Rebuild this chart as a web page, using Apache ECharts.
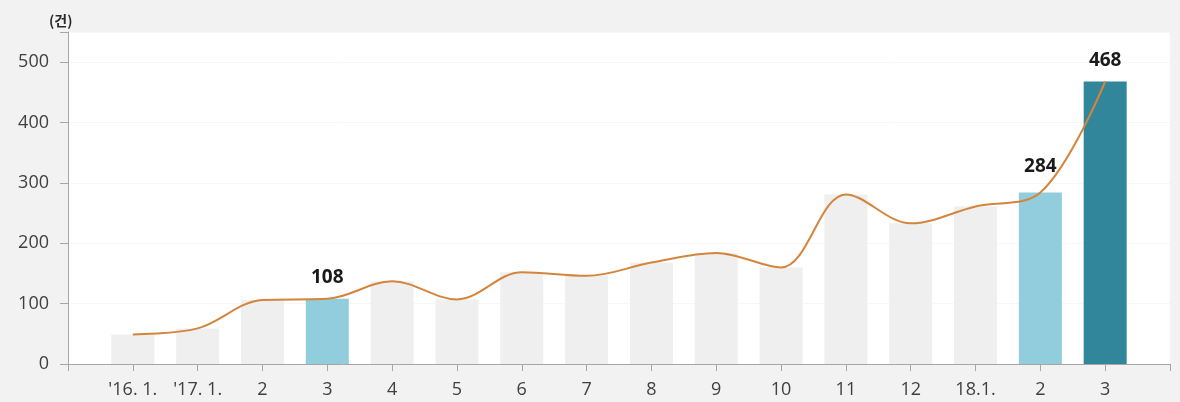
<!DOCTYPE html>
<html>
<head>
<meta charset="utf-8">
<script src="https://cdn.jsdelivr.net/npm/echarts@6/dist/echarts.min.js"></script>
<style>
html,body{margin:0;padding:0;background:#f2f2f2;}
#c{width:1180px;height:402px;}
</style>
</head>
<body>
<div id="c"></div>
<script>
const categories = ['', "'16. 1.", "'17. 1.", '2', '3', '4', '5', '6', '7', '8', '9', '10', '11', '12', '18.1.', '2', '3', ''];
const counts = [null, 49, 59, 106, 108, 137, 107, 152, 146, 168, 184, 160, 281, 233, 261, 284, 468, null];
const highlightLight = [4, 15];
const highlightDark = [16];
const labelled = [4, 15, 16];
const labelDistance = {4: 12, 15: 16, 16: 11};
const yTicks = [0, 100, 200, 300, 400, 500];
const unitLabel = '(건)';
const FONT = '"Open Sans", "Noto Sans", sans-serif';

const barData = counts.map((v, i) => {
  if (v === null) return null;
  let color = '#efefef';
  if (highlightLight.includes(i)) color = '#92cddd';
  if (highlightDark.includes(i)) color = '#31869c';
  const item = { value: v, itemStyle: { color } };
  if (labelled.includes(i)) {
    item.label = { show: true, position: 'top', distance: labelDistance[i],
      fontWeight: 'bold', fontSize: 19, color: '#1a1a1a', fontFamily: FONT };
  }
  return item;
});

const chart = echarts.init(document.getElementById('c'));
chart.setOption({
  backgroundColor: '#f2f2f2',
  animation: false,
  title: {
    text: unitLabel, left: 44, top: 9,
    textStyle: { fontSize: 14, fontWeight: 'bold', color: '#2a2a2a', fontFamily: '"Noto Sans CJK KR", sans-serif' }
  },
  grid: { left: 68, right: 10, top: 32, bottom: 38, show: true, backgroundColor: '#ffffff', borderWidth: 0 },
  xAxis: {
    type: 'category', data: categories, boundaryGap: false,
    axisLine: { lineStyle: { color: '#a6a6a6', width: 1 } },
    axisTick: { show: true, length: 7, lineStyle: { color: '#a6a6a6' } },
    axisLabel: { color: '#404040', fontSize: 18, margin: 17, interval: 0, fontFamily: FONT },
    splitLine: { show: false }
  },
  yAxis: {
    type: 'value', min: 0, max: 550, interval: 100,
    axisLine: { show: true, lineStyle: { color: '#a6a6a6' } },
    axisTick: { show: true, length: 8, lineStyle: { color: '#a6a6a6' } },
    axisLabel: { color: '#404040', fontSize: 18, margin: 19, fontFamily: FONT,
      formatter: v => yTicks.includes(v) ? String(v) : '' },
    splitLine: { show: true, lineStyle: { color: '#f7f7f7' } }
  },
  series: [
    { type: 'bar', data: barData, barWidth: 43, z: 2 },
    { type: 'line', data: counts, smooth: 0.35, showSymbol: false, symbol: 'none',
      lineStyle: { color: '#d4853c', width: 2 }, z: 3, connectNulls: false }
  ]
});
</script>
</body>
</html>
